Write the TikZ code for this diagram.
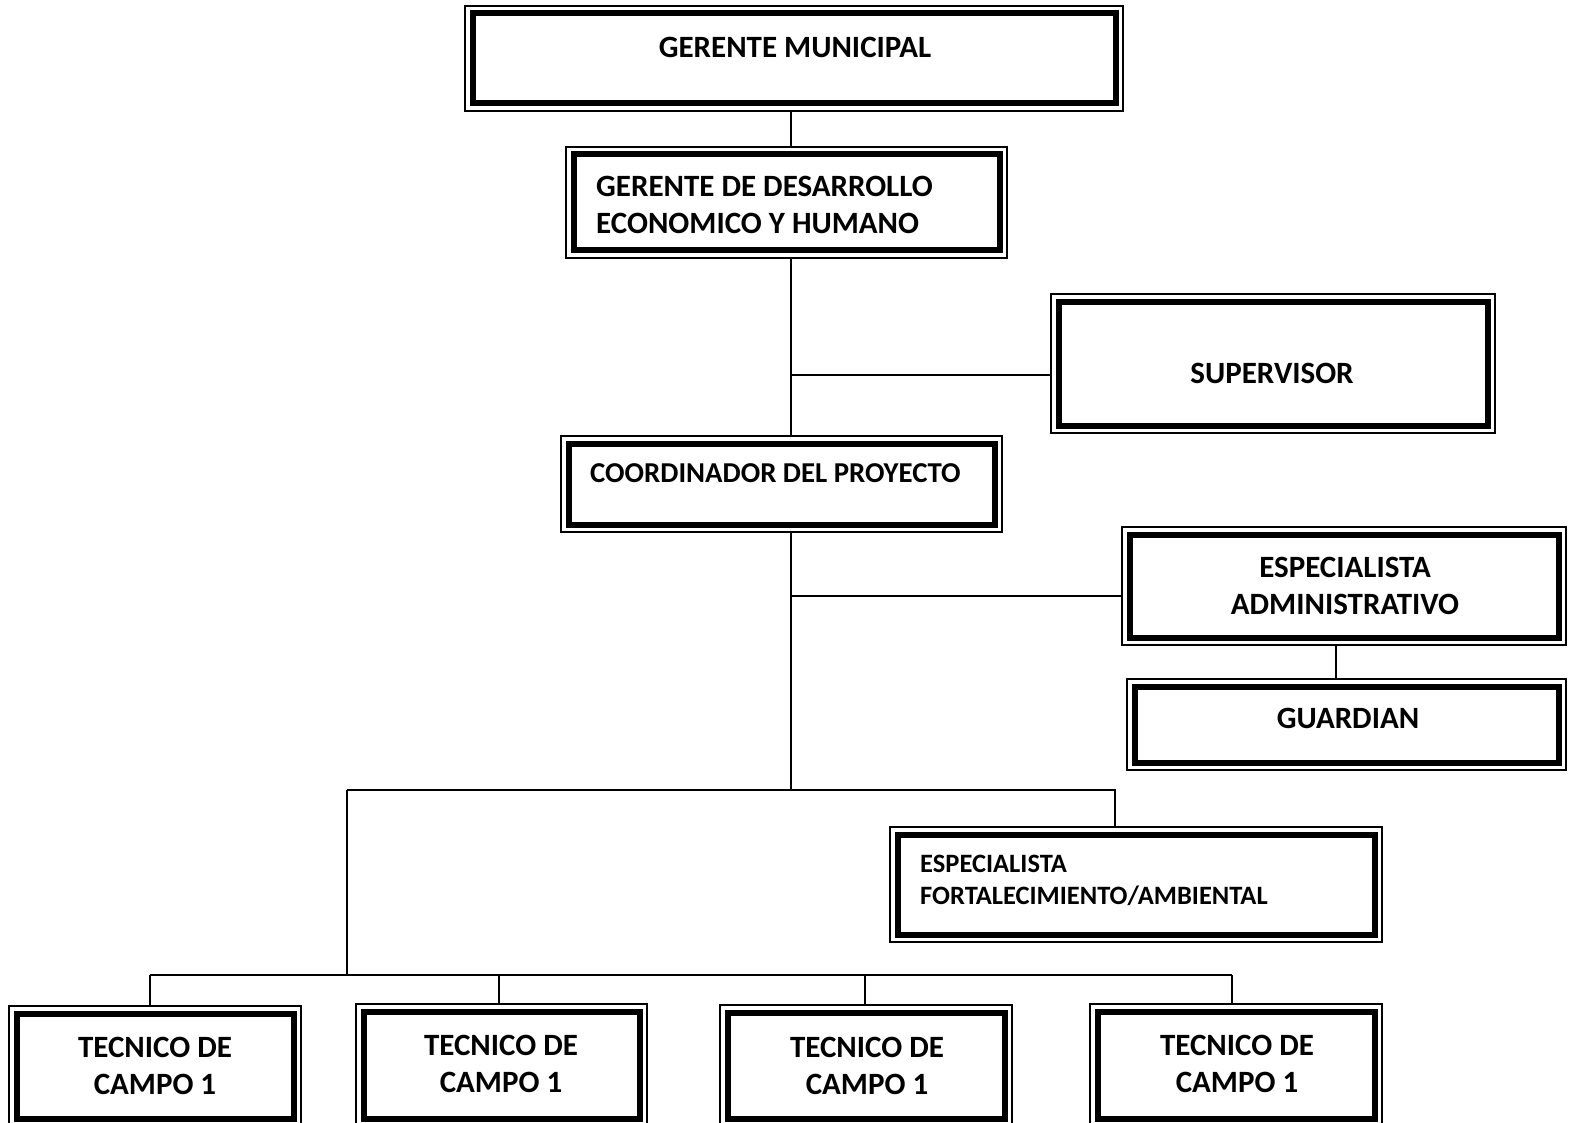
\documentclass[tikz,border=0pt]{standalone}
\usepackage{fontspec}
\setmainfont{Carlito}
\begin{document}
\begin{tikzpicture}[x=1pt,y=-1pt,
  box/.style={draw, line width=1.2pt, inner sep=0pt, rectangle,
    path picture={\draw[line width=6pt]
      ([xshift=7.5pt,yshift=-7.5pt]path picture bounding box.north west) rectangle
      ([xshift=-7.5pt,yshift=7.5pt]path picture bounding box.south east);}},
  txt/.style={inner sep=0pt, font=\fontsize{31}{37}\selectfont\bfseries, align=center},
  txtl/.style={txt, anchor=west, align=left},
  conn/.style={line width=1.7pt}]
\useasboundingbox (0,0) rectangle (1578,1123);
% boxes
\node[box, minimum width=658pt, minimum height=105pt] (gm) at (794,58.5) {};
\node[box, minimum width=441pt, minimum height=111pt] (gd) at (786.5,202.5) {};
\node[box, minimum width=444pt, minimum height=139pt] (sup) at (1273,363.5) {};
\node[box, minimum width=441pt, minimum height=96pt] (co) at (781.5,484) {};
\node[box, minimum width=444pt, minimum height=118pt] (ea) at (1344,586) {};
\node[box, minimum width=439pt, minimum height=91pt] (gu) at (1346.5,724.5) {};
\node[box, minimum width=492pt, minimum height=115pt] (ef) at (1136,884.5) {};
\node[box, minimum width=292pt, minimum height=120pt] (t1) at (155,1066) {};
\node[box, minimum width=291pt, minimum height=122pt] (t2) at (501.5,1065) {};
\node[box, minimum width=292pt, minimum height=121pt] (t3) at (866,1065.5) {};
\node[box, minimum width=292pt, minimum height=122pt] (t4) at (1236,1065) {};
% texts
\node[txt] (gmT) at (795,47) {GERENTE MUNICIPAL};
\node[txtl] (gdT) at (596,204.5) {GERENTE DE DESARROLLO\\ECONOMICO Y HUMANO};
\node[txt] (supT) at (1272,373) {SUPERVISOR};
\node[txtl, font=\fontsize{28.8}{34}\selectfont\bfseries] (coT) at (590,473) {COORDINADOR DEL PROYECTO};
\node[txt] (eaT) at (1345,585.5) {ESPECIALISTA\\ADMINISTRATIVO};
\node[txt] (guT) at (1348,718) {GUARDIAN};
\node[txtl, font=\fontsize{26.5}{32}\selectfont\bfseries] (efT) at (920,880) {ESPECIALISTA\\FORTALECIMIENTO/AMBIENTAL};
\node[txt] (t1T) at (155,1065.5) {TECNICO DE\\CAMPO 1};
\node[txt] (t2T) at (501,1063.5) {TECNICO DE\\CAMPO 1};
\node[txt] (t3T) at (867,1065.5) {TECNICO DE\\CAMPO 1};
\node[txt] (t4T) at (1237,1063.5) {TECNICO DE\\CAMPO 1};
% connector coordinates
\coordinate (s1) at (791,375);
\coordinate (s2) at (791,596);
\coordinate (s3) at (791,790);
\coordinate (h1) at (347,790);
\coordinate (h2) at (1115,790);
\coordinate (h3) at (347,975);
\coordinate (b1) at (150,975);
\coordinate (b2) at (499,975);
\coordinate (b3) at (865,975);
\coordinate (b4) at (1232,975);
\coordinate (g1) at (1336,660);
% connectors
\draw[conn] (gm.south -| s1) -- (gd.north -| s1);
\draw[conn] (gd.south -| s1) -- (co.north -| s1);
\draw[conn] (s1) -- (sup.west |- s1);
\draw[conn] (co.south -| s2) -- (s3);
\draw[conn] (s2) -- (ea.west |- s2);
\draw[conn] (ea.south -| g1) -- (gu.north -| g1);
\draw[conn] (h1) -- (h2) -- (ef.north -| h2);
\draw[conn] (h1) -- (h3);
\draw[conn] (b1) -- (b4);
\draw[conn] (b1) -- (t1.north -| b1);
\draw[conn] (b2) -- (t2.north -| b2);
\draw[conn] (b3) -- (t3.north -| b3);
\draw[conn] (b4) -- (t4.north -| b4);
\end{tikzpicture}
\end{document}
